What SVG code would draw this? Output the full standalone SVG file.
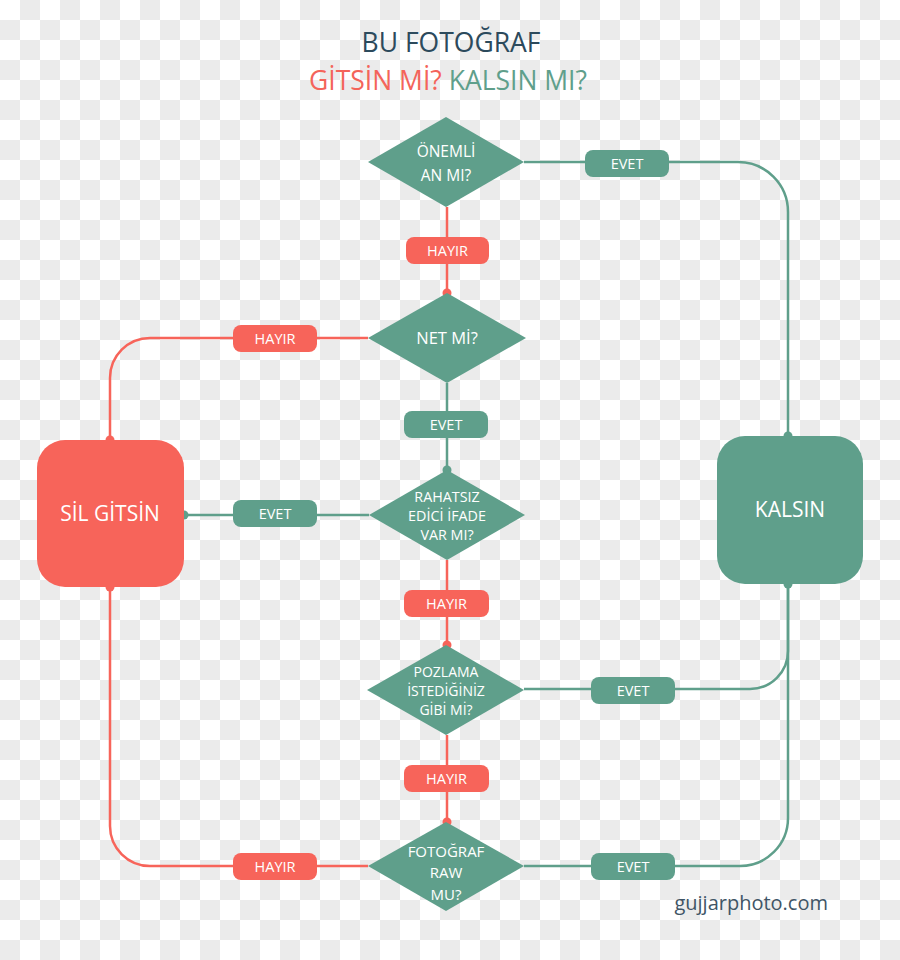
<svg xmlns="http://www.w3.org/2000/svg" width="900" height="960" viewBox="0 0 900 960">
<defs>
<pattern id="chk" width="40" height="40" patternUnits="userSpaceOnUse">
<rect width="40" height="40" fill="#ffffff"/>
<rect x="20" y="0" width="20" height="20" fill="#ebebeb"/>
<rect x="0" y="20" width="20" height="20" fill="#ebebeb"/>
</pattern>
<style>
.g{fill:#5f9f8b}
.r{fill:#f7645a}
.lg{stroke:#5f9f8b;stroke-width:2.5;fill:none}
.lr{stroke:#f7645a;stroke-width:2.5;fill:none}
.t{font-family:"Open Sans","Noto Sans",sans-serif;fill:#ffffff;text-anchor:middle}
.lbl{font-size:14.5px}
.dt{font-size:14.3px}
.big{font-size:21px}
</style>
</defs>
<rect width="900" height="960" fill="url(#chk)"/>

<g id="title" font-family="'Open Sans','Noto Sans',sans-serif" text-anchor="middle">
<text x="451" y="52" font-size="26.5" fill="#2c4a5c">BU FOTOĞRAF</text>
<text x="448" y="90" font-size="26.5"><tspan fill="#f4645a">GİTSİN Mİ?</tspan> <tspan fill="#5f9f8b">KALSIN MI?</tspan></text>
</g>

<g id="connectors">
<!-- red -->
<path class="lr" d="M447 207 V293"/>
<path class="lr" d="M368 338 H150 A40 40 0 0 0 110 378 V440"/>
<path class="lr" d="M447 560 V645"/>
<path class="lr" d="M447 735 V822"/>
<path class="lr" d="M368 866 H150 A40 40 0 0 1 110 826 V587"/>
<circle class="r" cx="447" cy="293" r="4.5"/>
<circle class="r" cx="110" cy="440" r="4.5"/>
<circle class="r" cx="447" cy="645" r="4.5"/>
<circle class="r" cx="447" cy="822" r="4.5"/>
<circle class="r" cx="110" cy="587" r="4.5"/>
<!-- green -->
<path class="lg" d="M524 162 H738 A50 50 0 0 1 788 212 V436"/>
<path class="lg" d="M447 383 V470"/>
<path class="lg" d="M369 515 H184"/>
<path class="lg" d="M524 689 H750 A38 38 0 0 0 788 651 V584"/>
<path class="lg" d="M524 866 H740 A48 48 0 0 0 788 818 V584"/>
<circle class="g" cx="788" cy="436" r="4.5"/>
<circle class="g" cx="447" cy="470" r="4.5"/>
<circle class="g" cx="184" cy="515" r="4.5"/>
<circle class="g" cx="788" cy="584" r="4.5"/>
</g>

<g id="labels">
<g id="l1"><rect class="r" x="406" y="237" width="83" height="27" rx="8"/><text class="t lbl" x="447.5" y="255.5">HAYIR</text></g>
<g id="l2"><rect class="g" x="585" y="150" width="84" height="27" rx="8"/><text class="t lbl" x="627" y="168.5">EVET</text></g>
<g id="l3"><rect class="r" x="233" y="325" width="84" height="27" rx="8"/><text class="t lbl" x="275" y="343.5">HAYIR</text></g>
<g id="l4"><rect class="g" x="404" y="411" width="84" height="27" rx="8"/><text class="t lbl" x="446" y="429.5">EVET</text></g>
<g id="l5"><rect class="g" x="233" y="500" width="84" height="27" rx="8"/><text class="t lbl" x="275" y="518.5">EVET</text></g>
<g id="l6"><rect class="r" x="404" y="590" width="85" height="27" rx="8"/><text class="t lbl" x="446.5" y="608.5">HAYIR</text></g>
<g id="l7"><rect class="g" x="591" y="677" width="84" height="27" rx="8"/><text class="t lbl" x="633" y="695.5">EVET</text></g>
<g id="l8"><rect class="r" x="404" y="765" width="85" height="27" rx="8"/><text class="t lbl" x="446.5" y="783.5">HAYIR</text></g>
<g id="l9"><rect class="r" x="233" y="853" width="84" height="27" rx="8"/><text class="t lbl" x="275" y="871.5">HAYIR</text></g>
<g id="l10"><rect class="g" x="591" y="853" width="84" height="27" rx="8"/><text class="t lbl" x="633" y="871.5">EVET</text></g>
</g>

<g id="d1"><polygon class="g" points="446,117 524,162 446,207 368,162"/><text class="t" font-size="15.5" x="446" y="157">ÖNEMLİ</text><text class="t" font-size="15.5" x="446" y="181">AN MI?</text></g>
<g id="d2"><polygon class="g" points="447,293 526,338 447,383 368,338"/><text class="t" font-size="16.5" x="447" y="344">NET Mİ?</text></g>
<g id="d3"><polygon class="g" points="447,470 525,515 447,560 369,515"/><text class="t dt" x="447" y="502">RAHATSIZ</text><text class="t dt" x="447" y="521">EDİCİ İFADE</text><text class="t dt" x="447" y="540">VAR MI?</text></g>
<g id="d4"><polygon class="g" points="446,645 524,690 446,735 367,690"/><text class="t" font-size="14" x="446" y="677">POZLAMA</text><text class="t" font-size="14" x="446" y="696">İSTEDİĞİNİZ</text><text class="t" font-size="14" x="446" y="715">GİBİ Mİ?</text></g>
<g id="d5"><polygon class="g" points="446,822 524,866 446,911 368,866"/><text class="t" font-size="15" x="446" y="857">FOTOĞRAF</text><text class="t" font-size="15" x="446" y="878">RAW</text><text class="t" font-size="15" x="446" y="900">MU?</text></g>

<g id="sil"><rect class="r" x="37" y="440" width="147" height="147" rx="28"/><text class="t big" x="110" y="521">SİL GİTSİN</text></g>
<g id="kalsin"><rect class="g" x="717" y="436" width="146" height="148" rx="28"/><text class="t big" x="790" y="517">KALSIN</text></g>

<text id="wm" x="828" y="910" font-family="'Open Sans','Noto Sans',sans-serif" font-size="20" fill="#3f5566" text-anchor="end">gujjarphoto.com</text>
</svg>
